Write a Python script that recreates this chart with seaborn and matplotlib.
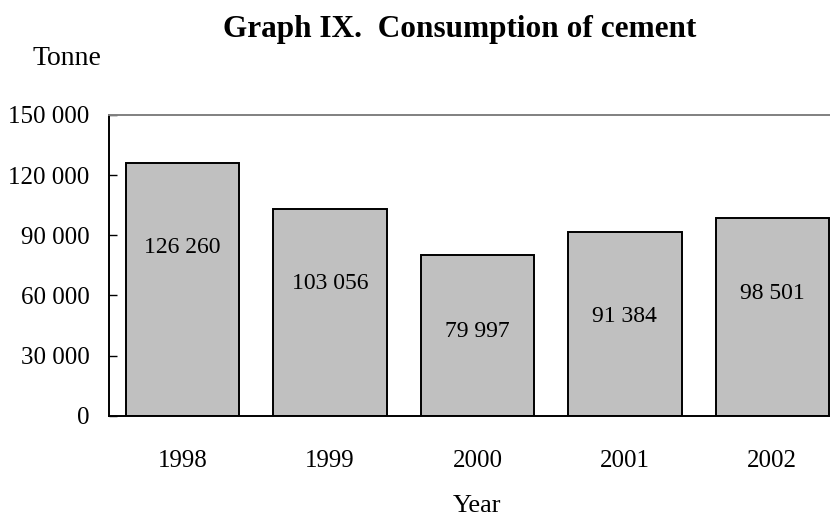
import matplotlib
matplotlib.use("Agg")
import matplotlib.pyplot as plt
import seaborn as sns
import pandas as pd

# Annual cement consumption, tonnes
years = ["1998", "1999", "2000", "2001", "2002"]
consumption = [126260, 103056, 79997, 91384, 98501]
# heights (in tonnes) at which each value label sits inside its bar
label_heights = [84000, 66000, 42100, 49600, 61000]
y_ticks = [0, 30000, 60000, 90000, 120000, 150000]

sns.set_theme(style="white")
plt.rcParams["font.family"] = ["Liberation Serif", "DejaVu Serif"]
plt.rcParams.update({"text.color": "black", "axes.labelcolor": "black",
                     "xtick.color": "black", "ytick.color": "black"})

df = pd.DataFrame({"Year": years, "Tonne": consumption})

fig = plt.figure(figsize=(8.3, 5.17), dpi=100)
ax = fig.add_axes([0.1313, 0.196, 0.888, 0.5816])

sns.barplot(data=df, x="Year", y="Tonne", color="#c0c0c0", saturation=1,
            edgecolor="black", linewidth=1.4, width=0.77, ax=ax)

ax.set_xlim(-0.5, len(years) - 0.5)
ax.set_ylim(0, 150000)
ax.set_yticks(y_ticks)
ax.set_yticklabels([f"{v:,}".replace(",", " ") for v in y_ticks], fontsize=18)

# category labels sit under the bars, tick marks go between categories
ax.set_xticks(range(len(years)))
ax.set_xticklabels(years, fontsize=18)
ax.tick_params(axis="x", which="major", length=0, pad=25)
ax.set_xticks([i + 0.5 for i in range(len(years) - 1)], minor=True)
ax.tick_params(axis="x", which="minor", direction="in", length=6,
               width=1.0, color="black")
ax.tick_params(axis="y", direction="in", length=6, width=1.0,
               color="black", left=True, pad=14)

ax.set_xlabel("Year", fontsize=19, labelpad=16, color="black")
ax.set_ylabel("")

for side in ["left", "bottom"]:
    ax.spines[side].set_color("black")
    ax.spines[side].set_linewidth(1.4)
ax.spines["top"].set_color("#808080")
ax.spines["top"].set_linewidth(1.4)
ax.spines["right"].set_visible(False)

for i, (v, h) in enumerate(zip(consumption, label_heights)):
    ax.text(i, h, f"{v:,}".replace(",", " "), ha="center", va="center",
            fontsize=17, color="black")

fig.text(0.554, 1 - 30 / 517, "Graph IX.  Consumption of cement",
         ha="center", va="center", fontsize=22.5, fontweight="bold",
         color="black")
fig.text(32 / 830, 1 - 58 / 517, "Tonne", ha="left", va="center",
         fontsize=20, color="black")

fig.savefig("out.png", dpi=100)
